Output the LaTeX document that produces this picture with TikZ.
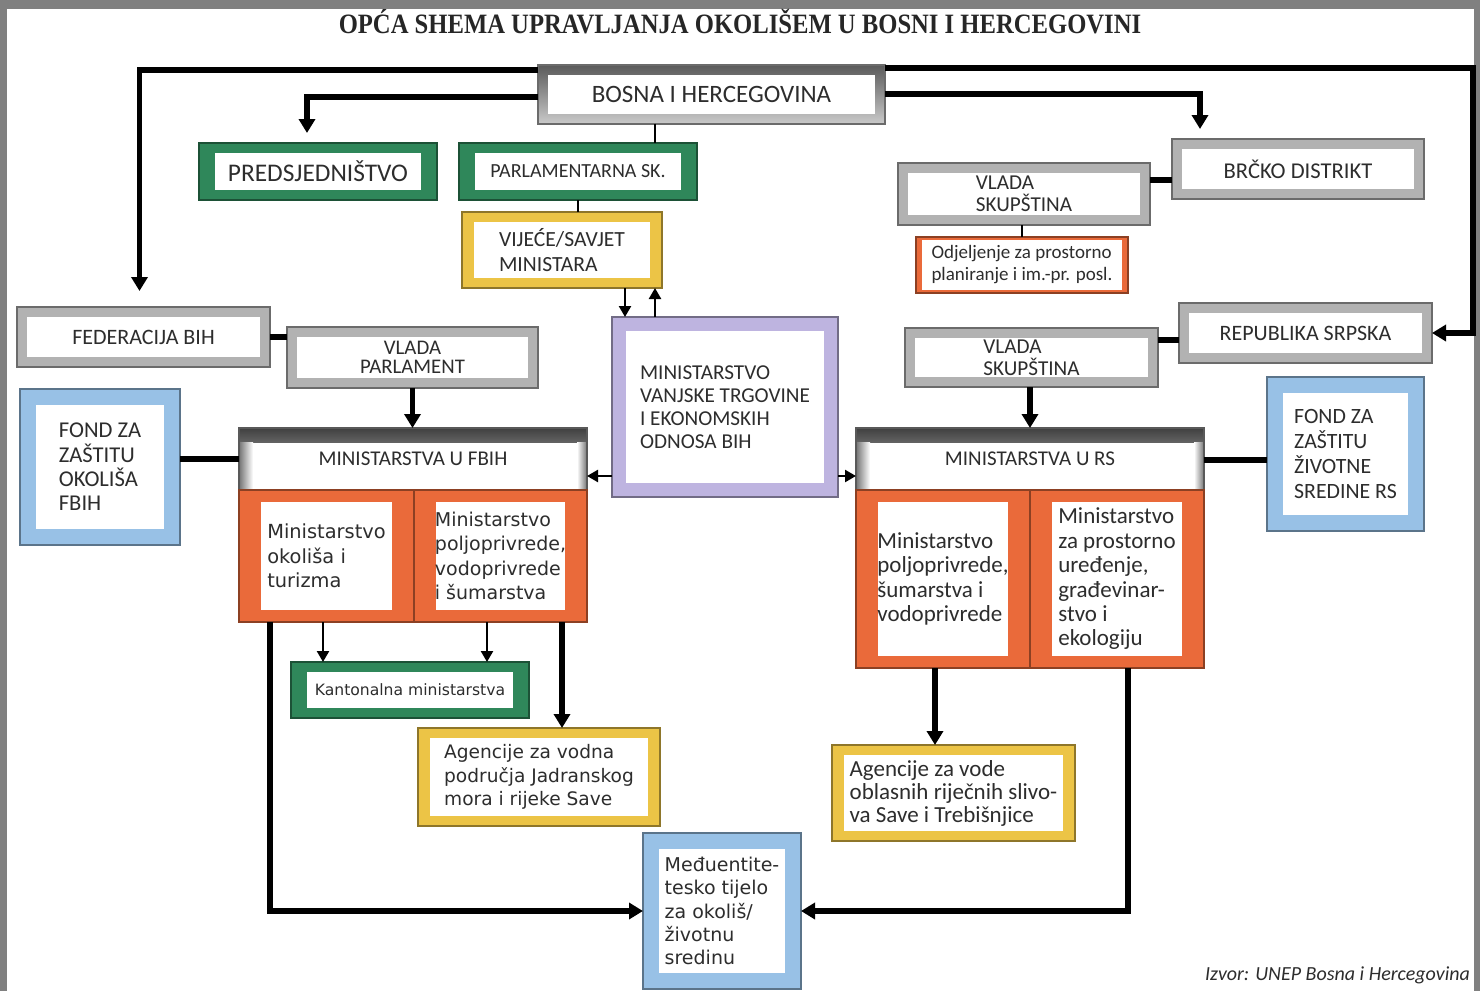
\documentclass[tikz,border=0pt]{standalone}
\usepackage{fontspec}
\setmainfont{Carlito}
\newfontfamily\verdfont{DejaVu Sans}
\newfontfamily\titlefont{Liberation Serif}
\usetikzlibrary{arrows.meta, calc}

\definecolor{frmgreen}{RGB}{47,135,90}
\definecolor{frmyellow}{RGB}{236,196,70}
\definecolor{frmorange}{RGB}{234,106,58}
\definecolor{frmblue}{RGB}{152,193,230}
\definecolor{frmlilac}{RGB}{190,180,224}
\definecolor{frmgray}{RGB}{178,178,178}
\definecolor{txtgray}{RGB}{45,45,45}
\definecolor{edgegray}{RGB}{128,128,128}

\newcommand{\setfs}[2]{\fontsize{#1}{#2}\selectfont}

\tikzset{
    boxsize/.style 2 args={minimum width=#1pt, minimum height=#2pt},
    unitbox/.style n args={3}{draw=#1!60!black, line width=1pt, fill=#1,
        inner sep=0pt, outer sep=0pt, text=txtgray, align=left,
        path picture={\fill[white]
            ([xshift=#2, yshift=#3]path picture bounding box.south west) rectangle
            ([xshift=-#2, yshift=-#3]path picture bounding box.north east);}},
    graybox/.style={unitbox={frmgray}{5pt}{5pt}},
    greenbox/.style={unitbox={frmgreen}{8pt}{5pt}},
    yellowbox/.style={unitbox={frmyellow}{6pt}{5pt}},
    orangebox/.style={unitbox={frmorange}{11pt}{6pt}},
    bluebox/.style={unitbox={frmblue}{8pt}{8pt}},
    lilacbox/.style={unitbox={frmlilac}{7pt}{7pt}},
    headbox/.style={draw=black!65, line width=1pt, fill=white,
        inner sep=0pt, outer sep=0pt, text=txtgray,
        path picture={
            \shade[top color=black!75, bottom color=black!15]
                (path picture bounding box.north west) rectangle
                ([yshift=-7pt]path picture bounding box.north east);
            \shade[left color=black!55, right color=white]
                (path picture bounding box.south west) rectangle
                ([xshift=7pt, yshift=-7pt]path picture bounding box.north west);
            \shade[left color=white, right color=black!55]
                ([xshift=-5pt]path picture bounding box.south east) rectangle
                ([yshift=-7pt]path picture bounding box.north east);}},
    conn/.style={line width=2.8pt},
    thinconn/.style={line width=1.2pt},
    arr/.style={conn, -{Triangle[length=7pt, width=8pt]}},
    thinarr/.style={thinconn, -{Triangle[length=5.5pt, width=6pt]}}
}

\begin{document}
\begin{tikzpicture}[x=0.5pt, y=-0.5pt]
    % Frame of the page
    \fill[edgegray] (0,0) rectangle (1480,991);
    \fill[white] (7,9) rectangle (1474,991);
    \node[font=\titlefont\bfseries\setfs{14}{16}, text=black!85] (title) at (740,22)
        {\scalebox{0.88}[1]{OPĆA SHEMA UPRAVLJANJA OKOLIŠEM U BOSNI I HERCEGOVINI}};

    % State level
    \node[graybox, top color=black!65, bottom color=frmgray!70, boxsize={173.5}{29.5},
        font=\setfs{12.5}{14}] (bih) at (711.5,94) {BOSNA I HERCEGOVINA};
    \node[greenbox, boxsize={119}{28.5}, font=\setfs{12.7}{14}] (pred) at (318,171.5) {PREDSJEDNIŠTVO};
    \node[greenbox, boxsize={119}{28.5}, font=\setfs{10}{12}] (parl) at (578,171.5) {PARLAMENTARNA SK.};
    \node[yellowbox, boxsize={100}{38}, font=\setfs{10.8}{12.5}] (vijece) at (562,250)
        {VIJEĆE/SAVJET\\MINISTARA};
    \node[lilacbox, boxsize={113}{90}, font=\setfs{10.6}{11.5}] (mvteo) at (725,407)
        {MINISTARSTVO\\VANJSKE TRGOVINE\\I EKONOMSKIH\\ODNOSA BIH};

    % Brcko distrikt
    \node[graybox, boxsize={126}{30}, font=\setfs{11.3}{13}] (brcko) at (1298,169) {BRČKO DISTRIKT};
    \node[graybox, boxsize={126}{31}, font=\setfs{10.6}{11}] (bvlada) at (1024,194) {VLADA\\SKUPŠTINA};
    \node[unitbox={frmorange}{3pt}{1.5pt}, boxsize={106}{28}, font=\setfs{9.5}{11}] (odj) at (1022,265)
        {Odjeljenje za prostorno\\planiranje i im.-pr. posl.};

    % Federacija BiH
    \node[graybox, boxsize={126.5}{30}, font=\setfs{11}{13}] (fed) at (143.5,337) {FEDERACIJA BIH};
    \node[graybox, boxsize={125.5}{30.5}, font=\setfs{10.4}{9.5}, align=center] (fvlada) at (412.5,357.5)
        {VLADA\\PARLAMENT};
    \node[bluebox, boxsize={80}{78}, font=\setfs{11.3}{12.2}] (ffond) at (100,467)
        {FOND ZA\\ZAŠTITU\\OKOLIŠA\\FBIH};
    \node[headbox, boxsize={174}{31}, font=\setfs{10.5}{12}] (fmin) at (413,459) {MINISTARSTVA U FBIH};
    \node[orangebox, boxsize={87.5}{66}, font=\verdfont\setfs{9.7}{12.2}] (fmin1) at (326.5,556)
        {Ministarstvo\\okoliša i\\turizma};
    \node[orangebox, boxsize={86.5}{66}, font=\verdfont\setfs{9.5}{12.2}] (fmin2) at (500.5,556)
        {Ministarstvo\\poljoprivrede,\\vodoprivrede\\i šumarstva};
    \node[greenbox, boxsize={119}{28}, font=\verdfont\setfs{7.8}{9}] (kant) at (410,690)
        {Kantonalna ministarstva};
    \node[yellowbox, boxsize={121}{49}, font=\verdfont\setfs{9.3}{11.7}] (fagen) at (539,777)
        {Agencije za vodna\\područja Jadranskog\\mora i rijeke Save};

    % Republika Srpska
    \node[graybox, boxsize={126.5}{30}, font=\setfs{11}{13}] (rs) at (1305.5,333) {REPUBLIKA SRPSKA};
    \node[graybox, boxsize={126.5}{29.5}, font=\setfs{10.6}{11}] (rvlada) at (1031.5,357.5) {VLADA\\SKUPŠTINA};
    \node[bluebox, boxsize={78.5}{77}, font=\setfs{10.9}{12.5}] (rfond) at (1345.5,454)
        {FOND ZA\\ZAŠTITU\\ŽIVOTNE\\SREDINE RS};
    \node[headbox, boxsize={174}{31}, font=\setfs{10.5}{12}] (rmin) at (1030,459) {MINISTARSTVA U RS};
    \node[orangebox, boxsize={87}{89}, font=\setfs{11.5}{12.2}] (rmin1) at (943,579)
        {Ministarstvo\\poljoprivrede,\\šumarstva i\\vodoprivrede};
    \node[orangebox, boxsize={87}{89}, font=\setfs{11.5}{12.2}] (rmin2) at (1117,579)
        {Ministarstvo\\za prostorno\\uređenje,\\građevinar-\\stvo i\\ekologiju};
    \node[yellowbox, boxsize={121.5}{48}, font=\setfs{11.5}{11.5}] (ragen) at (953.5,793)
        {Agencije za vode\\oblasnih riječnih slivo-\\va Save i Trebišnjice};

    % Inter-entity body
    \node[bluebox, boxsize={79}{78}, font=\verdfont\setfs{9.5}{11.7}] (medju) at (722,911)
        {Međuentite-\\tesko tijelo\\za okoliš/\\životnu\\sredinu};
    \node[font=\itshape\setfs{10}{12}, text=txtgray, anchor=east] (izvor) at (1477,975)
        {Izvor: UNEP Bosna i Hercegovina};

    % Connections from the state level
    \draw[arr, shorten >=8pt] ($(bih.west)+(0,-24)$) -| ([xshift=-2pt]fed.north);
    \draw[arr, shorten >=5pt] ($(bih.west)+(0,3)$) -| ([xshift=-5.5pt]pred.north);
    \draw[arr] ($(bih.east)+(0,-26)$) -| ($(rs.east)+(41,0)$) -- (rs.east);
    \draw[arr, shorten >=5pt] ($(bih.east)+(0,0)$) -| ([xshift=14pt]brcko.north west);
    \draw[thinconn] (bih.south -| 655,0) -- (parl.north -| 655,0);
    \draw[thinconn] (parl.south) -- (parl.south |- vijece.north);
    \draw[thinarr] (vijece.south -| 625,0) -- (mvteo.north -| 625,0);
    \draw[thinarr] (mvteo.north -| 655,0) -- (vijece.south -| 655,0);

    % Brcko
    \draw[conn] (bvlada.east |- 0,180) -- (brcko.west |- 0,180);
    \draw[thinconn] (bvlada.south -| odj.north) -- (odj.north);

    % Entities
    \draw[conn] (fed.east) -- (fed.east -| fvlada.west);
    \draw[arr] (fvlada.south) -- (fvlada.south |- fmin.north);
    \draw[conn] (fmin.west) -- (fmin.west -| ffond.east);
    \draw[thinarr] (mvteo.west |- 0,476) -- (fmin.east |- 0,476);
    \draw[thinarr] (mvteo.east |- 0,476) -- (rmin.west |- 0,476);
    \draw[conn] (rs.west |- 0,340) -- (rvlada.east |- 0,340);
    \draw[arr] (rmin.north |- rvlada.south) -- (rmin.north);
    \draw[conn] (rmin.east |- 0,460) -- (rfond.west |- 0,460);

    % Lower level
    \draw[thinarr] (fmin1.south -| 323,0) -- (kant.north -| 323,0);
    \draw[thinarr] (fmin2.south -| 487,0) -- (kant.north -| 487,0);
    \draw[arr] (fmin2.south -| 562,0) -- (fagen.north -| 562,0);
    \draw[arr] (fmin1.south -| 270,0) |- (medju.west);
    \draw[arr] (rmin1.south -| 935,0) -- (ragen.north -| 935,0);
    \draw[arr] (rmin2.south -| 1128,0) |- (medju.east);
\end{tikzpicture}
\end{document}
